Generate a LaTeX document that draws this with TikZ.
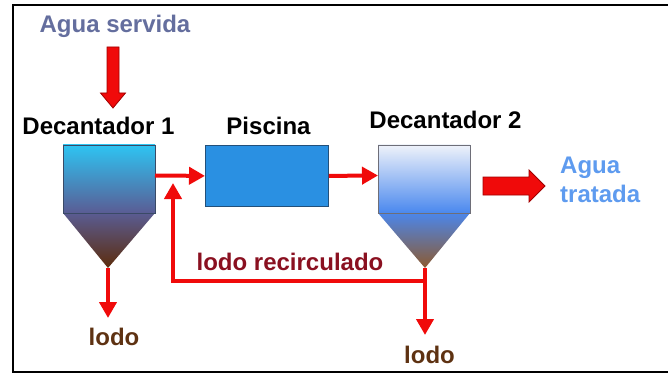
\documentclass[tikz,border=0pt]{standalone}
\usepackage{fontspec}
\setmainfont{Liberation Sans}
\usetikzlibrary{arrows.meta}
\definecolor{servida}{HTML}{646E9E}
\definecolor{tratada}{HTML}{5E9BEF}
\definecolor{recirc}{HTML}{8A1020}
\definecolor{lodoc}{HTML}{5E3212}
\definecolor{flow}{HTML}{F00A0A}
\definecolor{flowedge}{HTML}{A00000}
\definecolor{tankedge}{HTML}{3A4A66}
\tikzset{
  lbl/.style={font=\fontsize{24}{28}\selectfont\bfseries, inner sep=0pt, anchor=base},
  flowline/.style={draw=flow, line width=4pt, -{Triangle[width=17pt,length=16pt]}},
  bigarrow/.style={fill=flow, draw=flowedge, line width=0.8pt, line join=miter},
  tankbox/.style={draw=tankedge, line width=0.8pt}
}
\begin{document}
\begin{tikzpicture}[x=1pt,y=-1pt]
\useasboundingbox (0,0) rectangle (668,374);
% frame (no right side)
\draw[line width=2.5pt] (668,5) -- (13,5) -- (13,372) -- (668,372);

% labels
\node[lbl, text=servida] (tserv) at (115,33) {Agua servida};
\node[lbl] (td1) at (98.5,135) {Decantador 1};
\node[lbl] (tpisc) at (268.5,135) {Piscina};
\node[lbl] (td2) at (445.5,129) {Decantador 2};
\node[lbl, text=tratada, anchor=base west] (ttr1) at (560,173) {Agua};
\node[lbl, text=tratada, anchor=base west] (ttr2) at (560,202) {tratada};
\node[lbl, text=recirc] (trec) at (290,270) {lodo recirculado};
\node[lbl, text=lodoc] (tl1) at (114,345) {lodo};
\node[lbl, text=lodoc] (tl2) at (429.5,363) {lodo};

% Decantador 1
\coordinate (d1tl) at (63,145);
\coordinate (d1br) at (155,213);
\coordinate (d1bl) at (63,213);
\coordinate (d1apex) at (108,268);
\coordinate (d1r) at (155,175.5);
\shade[top color={rgb,255:red,90;green,92;blue,146}, middle color={rgb,255:red,82;green,70;blue,112}, bottom color={rgb,255:red,92;green,44;blue,12}]
  (d1bl) -- (d1br) -- (d1apex) -- cycle;
\shade[top color={rgb,255:red,46;green,196;blue,242}, middle color={rgb,255:red,70;green,148;blue,196}, bottom color={rgb,255:red,90;green,92;blue,148}, tankbox]
  (d1tl) rectangle (d1br);

% Piscina
\node[tankbox, fill={rgb,255:red,42;green,144;blue,226}, draw={rgb,255:red,35;green,80;blue,122}, minimum width=123pt, minimum height=61pt, anchor=north west, inner sep=0pt] (pisc) at (205,145) {};

% Decantador 2
\coordinate (d2tl) at (378,145);
\coordinate (d2br) at (470,213);
\coordinate (d2bl) at (378,213);
\coordinate (d2apex) at (425,268);
\coordinate (d2l) at (378,175.5);
\coordinate (d2r) at (483,185.5);
\shade[top color={rgb,255:red,76;green,134;blue,234}, middle color={rgb,255:red,110;green,120;blue,180}, bottom color={rgb,255:red,140;green,90;blue,48}]
  (d2bl) -- (d2br) -- (d2apex) -- cycle;
\shade[top color={rgb,255:red,238;green,242;blue,250}, middle color={rgb,255:red,150;green,196;blue,240}, bottom color={rgb,255:red,74;green,136;blue,238}, tankbox, draw={rgb,255:red,110;green,110;blue,120}]
  (d2tl) rectangle (d2br);

% thin flows
\draw[flowline] (d1r) -- (pisc.west);
\draw[flowline] (pisc.east) -- (d2l);
\coordinate (l1end) at (108,318);
\draw[flowline] (d1apex) -- (l1end);
\coordinate (l2end) at (425,335);
\draw[flowline] (d2apex) -- (l2end);
\coordinate (rj) at (425,280.5);
\coordinate (rc) at (173,280.5);
\coordinate (rtop) at (173,183);
\draw[flowline, line join=miter] (rj) -- (rc) -- (rtop);

% big arrows
\draw[bigarrow] (107,47) -- (119,47) -- (119,93) -- (125.5,93) -- (113,108) -- (100.5,93) -- (107,93) -- cycle;
\draw[bigarrow] (d2r) ++(0,-8.5) -- ++(46,0) -- ++(0,-7) -- ++(16,16) -- ++(-16,16) -- ++(0,-7) -- ++(-46,0) -- cycle;
\end{tikzpicture}
\end{document}
